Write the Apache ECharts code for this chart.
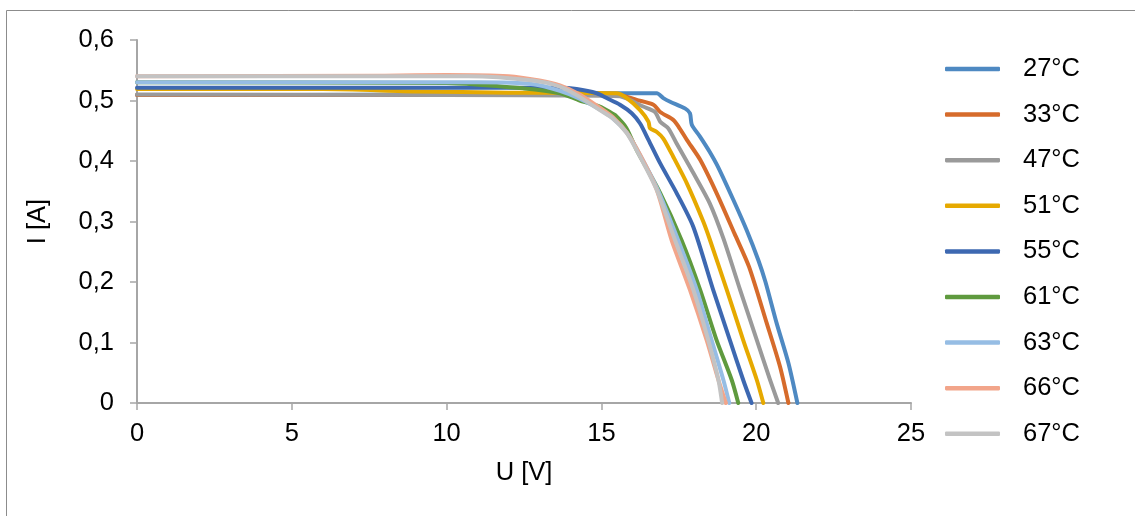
<!DOCTYPE html>
<html>
<head>
<meta charset="utf-8">
<script src="https://cdn.jsdelivr.net/npm/echarts@6/dist/echarts.min.js"></script>
<style>
html,body{margin:0;padding:0;background:#fff;}
#chart{width:1135px;height:516px;}
</style>
</head>
<body>
<div id="chart"></div>
<script>
// Series names (legend)
const seriesNames = ['27°C','33°C','47°C','51°C','55°C','61°C','63°C','66°C','67°C'];
const seriesColors = ['#4E89C2','#D66B2B','#9A9A9A','#E6A900','#3D68B1','#5F9A3E','#96BDE4','#F2A58A','#C3C3C3'];

// Voltage U [V] and current I [A]
const u27 = [0, 5, 10, 13, 15, 16.79, 17.0, 17.22, 17.7, 17.86, 17.92, 18.19, 18.5, 18.77, 19.26, 19.69, 20.07, 20.3, 20.66, 21.04, 21.33];
const i27 = [0.509, 0.509, 0.51, 0.511, 0.512, 0.512, 0.504, 0.498, 0.487, 0.479, 0.46, 0.44, 0.415, 0.39, 0.336, 0.286, 0.236, 0.2, 0.132, 0.066, 0];

const u33 = [0, 10, 15.5, 16.14, 16.68, 16.9, 17.32, 17.49, 17.76, 18.19, 18.72, 19.3, 19.77, 20.34, 20.77, 21.04];
const i33 = [0.509, 0.509, 0.51, 0.501, 0.493, 0.481, 0.468, 0.457, 0.435, 0.402, 0.347, 0.28, 0.225, 0.132, 0.06, 0];

const u47 = [0, 10, 15.0, 15.6, 16.35, 16.73, 16.9, 17.16, 17.43, 17.97, 18.5, 18.94, 19.48, 20.02, 20.45, 20.71];
const i47 = [0.51, 0.509, 0.508, 0.507, 0.49, 0.481, 0.465, 0.454, 0.429, 0.38, 0.33, 0.272, 0.187, 0.104, 0.038, 0];

const u51 = [0, 6, 9, 12, 15.49, 15.82, 16.25, 16.52, 16.57, 16.79, 17.0, 17.32, 17.76, 18.29, 18.51, 19.05, 19.58, 20.02, 20.23];
const i51 = [0.519, 0.519, 0.515, 0.513, 0.512, 0.504, 0.484, 0.465, 0.454, 0.448, 0.437, 0.407, 0.363, 0.3, 0.269, 0.187, 0.104, 0.038, 0];

const u55 = [0, 10, 13.66, 14.2, 14.85, 15.17, 15.6, 15.98, 16.25, 16.52, 16.9, 17.43, 17.97, 18.61, 19.15, 19.58, 19.85];
const i55 = [0.521, 0.521, 0.521, 0.519, 0.512, 0.504, 0.493, 0.479, 0.462, 0.435, 0.396, 0.347, 0.291, 0.187, 0.104, 0.038, 0];

const u61 = [0, 10, 12.5, 13.66, 14.3, 14.95, 15.3, 15.44, 15.8, 16.14, 16.9, 17.59, 18.19, 18.72, 19.21, 19.42];
const i61 = [0.53, 0.529, 0.52, 0.512, 0.5, 0.49, 0.48, 0.476, 0.455, 0.418, 0.347, 0.269, 0.187, 0.104, 0.038, 0];

const u63 = [0, 11, 12.8, 13.66, 14.3, 14.95, 15.38, 15.82, 16.25, 16.79, 17.48, 18.08, 18.56, 18.94, 19.13];
const i63 = [0.53, 0.53, 0.527, 0.516, 0.503, 0.485, 0.47, 0.447, 0.41, 0.356, 0.269, 0.187, 0.104, 0.038, 0];

const u66 = [0, 8, 10, 12, 13, 13.66, 14.3, 14.95, 15.38, 15.82, 16.25, 16.79, 17.27, 17.86, 18.4, 18.78, 19.02];
const i66 = [0.54, 0.541, 0.542, 0.54, 0.533, 0.525, 0.51, 0.488, 0.472, 0.447, 0.41, 0.352, 0.269, 0.187, 0.104, 0.038, 0];

const u67 = [0, 10, 10.7, 12.8, 13.66, 14.3, 14.95, 15.38, 15.82, 16.25, 16.79, 17.38, 17.97, 18.45, 18.78, 18.9];
const i67 = [0.54, 0.54, 0.54, 0.533, 0.523, 0.506, 0.484, 0.47, 0.446, 0.407, 0.352, 0.269, 0.187, 0.104, 0.038, 0];

// Axis ticks
const xTicks = [0, 5, 10, 15, 20, 25];
const yTicks = [0, 0.1, 0.2, 0.3, 0.4, 0.5, 0.6];

const uData = [u27, u33, u47, u51, u55, u61, u63, u66, u67];
const iData = [i27, i33, i47, i51, i55, i61, i63, i66, i67];

const FONT = 'Liberation Sans, Arial, sans-serif';
const FS = 25.5;
const axisGray = '#A6A6A6';

const chart = echarts.init(document.getElementById('chart'), null, {renderer: 'canvas'});

const series = seriesNames.map((name, k) => ({
  name: name,
  type: 'line',
  data: uData[k].map((u, j) => [u, iData[k][j]]),
  symbol: 'none',
  showSymbol: false,
  smooth: 0.25,
  lineStyle: {width: 4, color: seriesColors[k], cap: 'round', join: 'round'},
  itemStyle: {color: seriesColors[k]},
  emphasis: {disabled: true},
  animation: false
}));

chart.setOption({
  animation: false,
  backgroundColor: '#ffffff',
  graphic: [{
    type: 'rect',
    shape: {x: 6.5, y: 10.5, width: 1140, height: 520},
    style: {fill: 'none', stroke: '#8C8C8C', lineWidth: 1},
    silent: true
  }],
  grid: {left: 137, right: 224, top: 40, bottom: 113, containLabel: false},
  legend: {
    orient: 'vertical',
    left: 940,
    top: 51,
    icon: 'roundRect',
    itemWidth: 55,
    itemHeight: 4.5,
    itemGap: 19.6,
    data: seriesNames,
    textStyle: {fontFamily: FONT, fontSize: FS, color: '#000', lineHeight: 24, padding: [0, 0, 0, 18]},
    selectedMode: false
  },
  xAxis: {
    type: 'value',
    min: xTicks[0],
    max: xTicks[xTicks.length - 1],
    interval: 5,
    name: 'U [V]',
    nameLocation: 'middle',
    nameGap: 57,
    nameTextStyle: {fontFamily: FONT, fontSize: FS, color: '#000'},
    axisLine: {show: true, lineStyle: {color: axisGray, width: 2}},
    axisTick: {show: true, inside: false, length: 7, lineStyle: {color: axisGray, width: 1.5}},
    axisLabel: {fontFamily: FONT, fontSize: FS, color: '#000', margin: 18,
      formatter: v => String(v)},
    splitLine: {show: false}
  },
  yAxis: {
    type: 'value',
    min: yTicks[0],
    max: yTicks[yTicks.length - 1],
    interval: 0.1,
    name: 'I [A]',
    nameLocation: 'middle',
    nameGap: 86,
    nameTextStyle: {fontFamily: FONT, fontSize: FS, color: '#000'},
    axisLine: {show: true, lineStyle: {color: axisGray, width: 2}},
    axisTick: {show: true, inside: false, length: 7, lineStyle: {color: axisGray, width: 1.5}},
    axisLabel: {fontFamily: FONT, fontSize: FS, color: '#000', margin: 23,
      formatter: v => v === 0 ? '0' : v.toFixed(1).replace('.', ',')},
    splitLine: {show: false}
  },
  series: series
});
</script>
</body>
</html>
